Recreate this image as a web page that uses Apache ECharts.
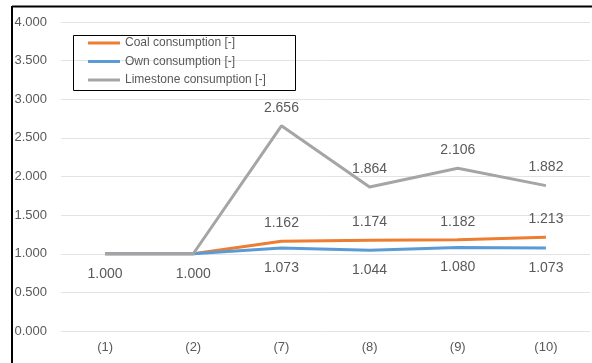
<!DOCTYPE html>
<html>
<head>
<meta charset="utf-8">
<script src="https://cdn.jsdelivr.net/npm/echarts@6/dist/echarts.min.js"></script>
<style>
  html, body { margin: 0; padding: 0; background: #fff; }
  #chart { width: 592px; height: 363px; }
</style>
</head>
<body>
<div id="chart"></div>
<script>
// Case labels along the x axis
const categories = ['(1)', '(2)', '(7)', '(8)', '(9)', '(10)'];

// Relative consumption per case
const coalConsumption = [1.000, 1.000, 1.162, 1.174, 1.182, 1.213];
const ownConsumption = [1.000, 1.000, 1.073, 1.044, 1.080, 1.073];
const limestoneConsumption = [1.000, 1.000, 2.656, 1.864, 2.106, 1.882];

// Value axis range and step
const yMin = 0;
const yMax = 4;
const yStep = 0.5;

// Cases whose value is labelled for each series
const coalLabelled = [false, false, true, true, true, true];
const ownLabelled = [true, true, true, true, true, true];
const limestoneLabelled = [false, false, true, true, true, true];

const textColor = '#595959';
const fontFamily = '"Liberation Sans", Arial, sans-serif';

function withLabels(values, shown) {
  return values.map((v, i) => ({ value: v, label: { show: shown[i] } }));
}

function lineSeries(name, values, shown, color, position, distance) {
  return {
    name: name,
    type: 'line',
    data: withLabels(values, shown),
    symbol: 'circle',
    symbolSize: 0,
    showSymbol: true,
    lineStyle: { color: color, width: 3 },
    itemStyle: { color: color },
    label: {
      show: true,
      position: position,
      distance: distance,
      color: textColor,
      fontFamily: fontFamily,
      fontSize: 14,
      formatter: p => p.value.toFixed(3)
    },
    emphasis: { disabled: true },
    animation: false
  };
}

const chart = echarts.init(document.getElementById('chart'), null, { renderer: 'canvas' });

chart.setOption({
  backgroundColor: '#ffffff',
  animation: false,
  grid: { left: 61, right: 2, top: 22, bottom: 32, containLabel: false },
  xAxis: {
    type: 'category',
    data: categories,
    boundaryGap: true,
    axisLine: { show: false },
    axisTick: { show: false },
    axisLabel: { color: textColor, fontFamily: fontFamily, fontSize: 13, margin: 10 },
    splitLine: { show: false }
  },
  yAxis: {
    type: 'value',
    min: yMin,
    max: yMax,
    interval: yStep,
    axisLine: { show: false },
    axisTick: { show: false },
    axisLabel: {
      color: textColor,
      fontFamily: fontFamily,
      fontSize: 13,
      margin: 14,
      formatter: v => v.toFixed(3)
    },
    splitLine: { lineStyle: { color: '#e3e3e3', width: 1 } }
  },
  legend: {
    orient: 'vertical',
    left: 88,
    top: 37,
    padding: 0,
    icon: 'rect',
    itemWidth: 32,
    itemHeight: 3,
    itemGap: 6.5,
    selectedMode: false,
    textStyle: { color: textColor, fontFamily: fontFamily, fontSize: 12 },
    data: ['Coal consumption [-]', 'Own consumption [-]', 'Limestone consumption [-]']
  },
  graphic: [
    // legend frame
    { type: 'rect', left: 71, top: 33, shape: { width: 222, height: 55 },
      style: { fill: null, stroke: '#000', lineWidth: 1 }, z: 100 },
    // chart outline along the top and left
    { type: 'line', shape: { x1: 12, y1: 6.5, x2: 592, y2: 6.5 },
      style: { stroke: '#000', lineWidth: 2 }, z: 100 },
    { type: 'line', shape: { x1: 12, y1: 6, x2: 12, y2: 363 },
      style: { stroke: '#000', lineWidth: 2 }, z: 100 }
  ],
  series: [
    lineSeries('Coal consumption [-]', coalConsumption, coalLabelled, '#ED7D31', 'top', 11),
    lineSeries('Own consumption [-]', ownConsumption, ownLabelled, '#5B9BD5', 'bottom', 13),
    lineSeries('Limestone consumption [-]', limestoneConsumption, limestoneLabelled, '#A5A5A5', 'top', 11)
  ]
});
</script>
</body>
</html>
